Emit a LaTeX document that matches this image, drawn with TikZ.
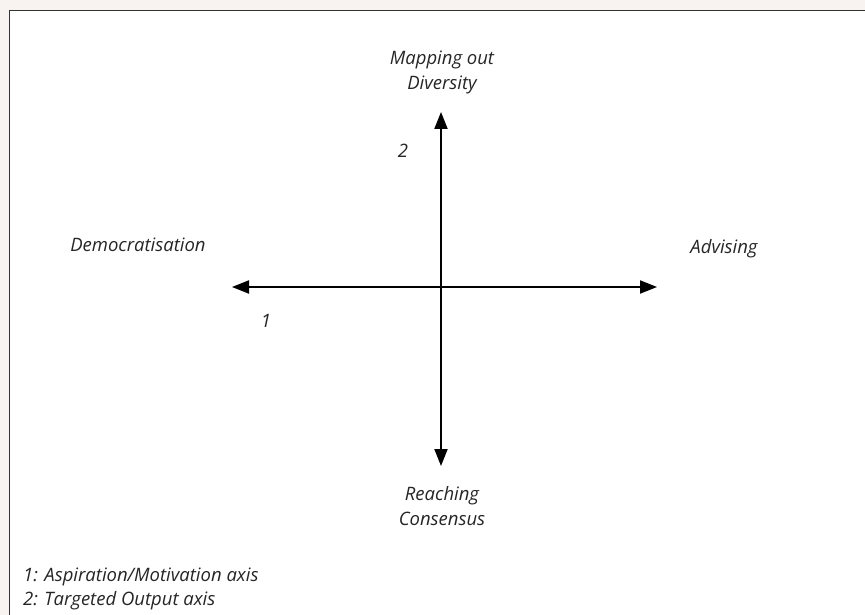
\documentclass[tikz,border=0pt]{standalone}
\usepackage{fontspec}
\setmainfont{Open Sans}
\usepackage{tikz}
\usetikzlibrary{arrows.meta,positioning}
\definecolor{pagepink}{HTML}{F8F2F1}
\definecolor{framegray}{HTML}{333333}

\begin{document}
\begin{tikzpicture}[x=1pt,y=-1pt,
    label/.style={font=\fontsize{18.5}{25}\selectfont\itshape, text=black!85, align=center, inner sep=0pt},
    note/.style={font=\fontsize{18.5}{24}\selectfont\itshape, text=black!85, anchor=west, inner sep=0pt},
    axis/.style={line width=2pt, {Triangle[length=17pt,width=13pt]}-{Triangle[length=17pt,width=13pt]}}]

    \useasboundingbox (0,0) rectangle (865,615);
    \fill[pagepink] (0,0) rectangle (865,615);
    \begin{scope}
      \clip (0,0) rectangle (865,615);
      \draw[framegray, line width=1.8pt, fill=white] (9.5,10.5) rectangle (880,630);
    \end{scope}

    % axes
    \coordinate (centre) at (441,287);
    \coordinate (left) at (232,287);
    \coordinate (right) at (657,287);
    \coordinate (top) at (441,112);
    \coordinate (bottom) at (441,466);
    \draw[axis] (left) -- (right);
    \draw[axis] (bottom) -- (top);

    % pole labels
    \node[label] (diversity) at (442,72) {Mapping out\\Diversity};
    \node[label] (consensus) at (442,506) {Reaching\\Consensus};
    \node[label] (democ) at (138,245) {Democratisation};
    \node[label] (advising) at (724,249) {Advising};
    \node[label] (one) at (266,321) {1};
    \node[label] (two) at (403,151) {2};

    % key
    \node[note] (key1) at (23,577) {1: Aspiration/Motivation axis};
    \node[note] (key2) at (23,601) {2: Targeted Output axis};
\end{tikzpicture}
\end{document}
